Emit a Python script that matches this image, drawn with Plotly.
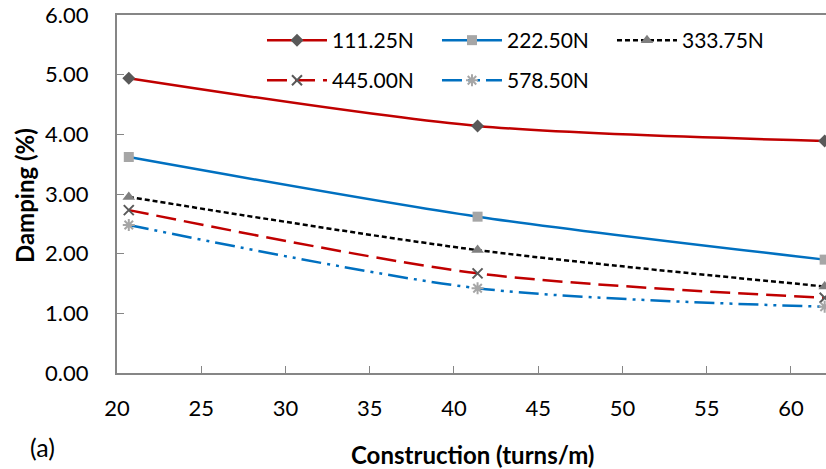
import plotly.graph_objects as go

construction = [20.7, 41.4, 62.0]
series_names = ["111.25N", "222.50N", "333.75N", "445.00N", "578.50N"]
damping_111 = [4.94, 4.14, 3.89]
damping_222 = [3.62, 2.62, 1.90]
damping_333 = [2.95, 2.06, 1.45]
damping_445 = [2.73, 1.67, 1.26]
damping_578 = [2.48, 1.42, 1.11]
x_ticks = [20, 25, 30, 35, 40, 45, 50, 55, 60]
y_ticks = [0, 1, 2, 3, 4, 5, 6]

values = [damping_111, damping_222, damping_333, damping_445, damping_578]
line_colors = ["#C00000", "#0070C0", "#000000", "#C00000", "#0070C0"]
dashes = ["solid", "solid", "5px,3px", "20px,8px", "20px,6px,3px,6px,3px,6px"]
symbols = ["diamond", "square", "triangle-up", "x-thin-open", "asterisk-open"]
marker_colors = ["#595959", "#A6A6A6", "#7F7F7F", "#595959", "#A6A6A6"]
marker_sizes = [10, 10, 11, 10, 10]
legend_ids = ["legend", "legend", "legend", "legend2", "legend2"]

font = "Lato, 'Open Sans', sans-serif"

fig = go.Figure()
for name, ys, lc, ds, sym, mc, ms, lg in zip(series_names, values, line_colors, dashes, symbols,
                                             marker_colors, marker_sizes, legend_ids):
    fig.add_trace(go.Scatter(
        x=construction, y=ys, name=name, mode="lines+markers", legend=lg,
        line=dict(color=lc, width=2.5, dash=ds, shape="spline", smoothing=0.8),
        marker=dict(symbol=sym, size=ms, color=mc, line=dict(color=mc, width=2 if "open" in sym else 0)),
    ))

legend_common = dict(orientation="h", xanchor="left", yanchor="top",
                     entrywidth=100, entrywidthmode="pixels", bgcolor="rgba(0,0,0,0)",
                     font=dict(size=21), itemwidth=60)

fig.update_layout(
    width=826, height=469,
    margin=dict(l=117, r=0, t=15, b=96),
    plot_bgcolor="white", paper_bgcolor="white",
    font=dict(family=font, size=22, color="#000000"),
    showlegend=True,
    legend=dict(x=0.2045, y=0.986, **legend_common),
    legend2=dict(x=0.2045, y=0.874, **legend_common),
    xaxis=dict(range=[20, 62.08], tickvals=x_ticks, ticks="inside", ticklen=7, tickcolor="#868686",
               showline=True, linecolor="#868686", linewidth=2, mirror=True, showgrid=False, zeroline=False,
               ticklabelstandoff=15, tickfont=dict(size=22), automargin=False),
    yaxis=dict(range=[0, 6], tickvals=y_ticks, tickformat=".2f", ticks="inside", ticklen=7, tickcolor="#868686",
               showline=True, linecolor="#868686", linewidth=2, showgrid=False, zeroline=False,
               ticklabelstandoff=22, tickfont=dict(size=22), automargin=False,
               ticklabeloverflow="allow"),
)

fig.add_annotation(text="<b>Construction (turns/m)</b>", xref="paper", yref="paper", x=0.502, y=-0.229,
                   xanchor="center", yanchor="middle", showarrow=False, font=dict(size=24))
fig.add_annotation(text="<b>Damping (%)</b>", xref="paper", yref="paper", x=-0.1312, y=0.497,
                   xanchor="center", yanchor="middle", textangle=-90, showarrow=False, font=dict(size=24))
fig.add_annotation(text="(a)", xref="paper", yref="paper", x=-0.1255, y=-0.2067,
                   xanchor="left", yanchor="middle", showarrow=False, font=dict(size=25))

fig.write_html("out.html", config={"displayModeBar": False},
               post_script="document.body.style.margin='0';")
